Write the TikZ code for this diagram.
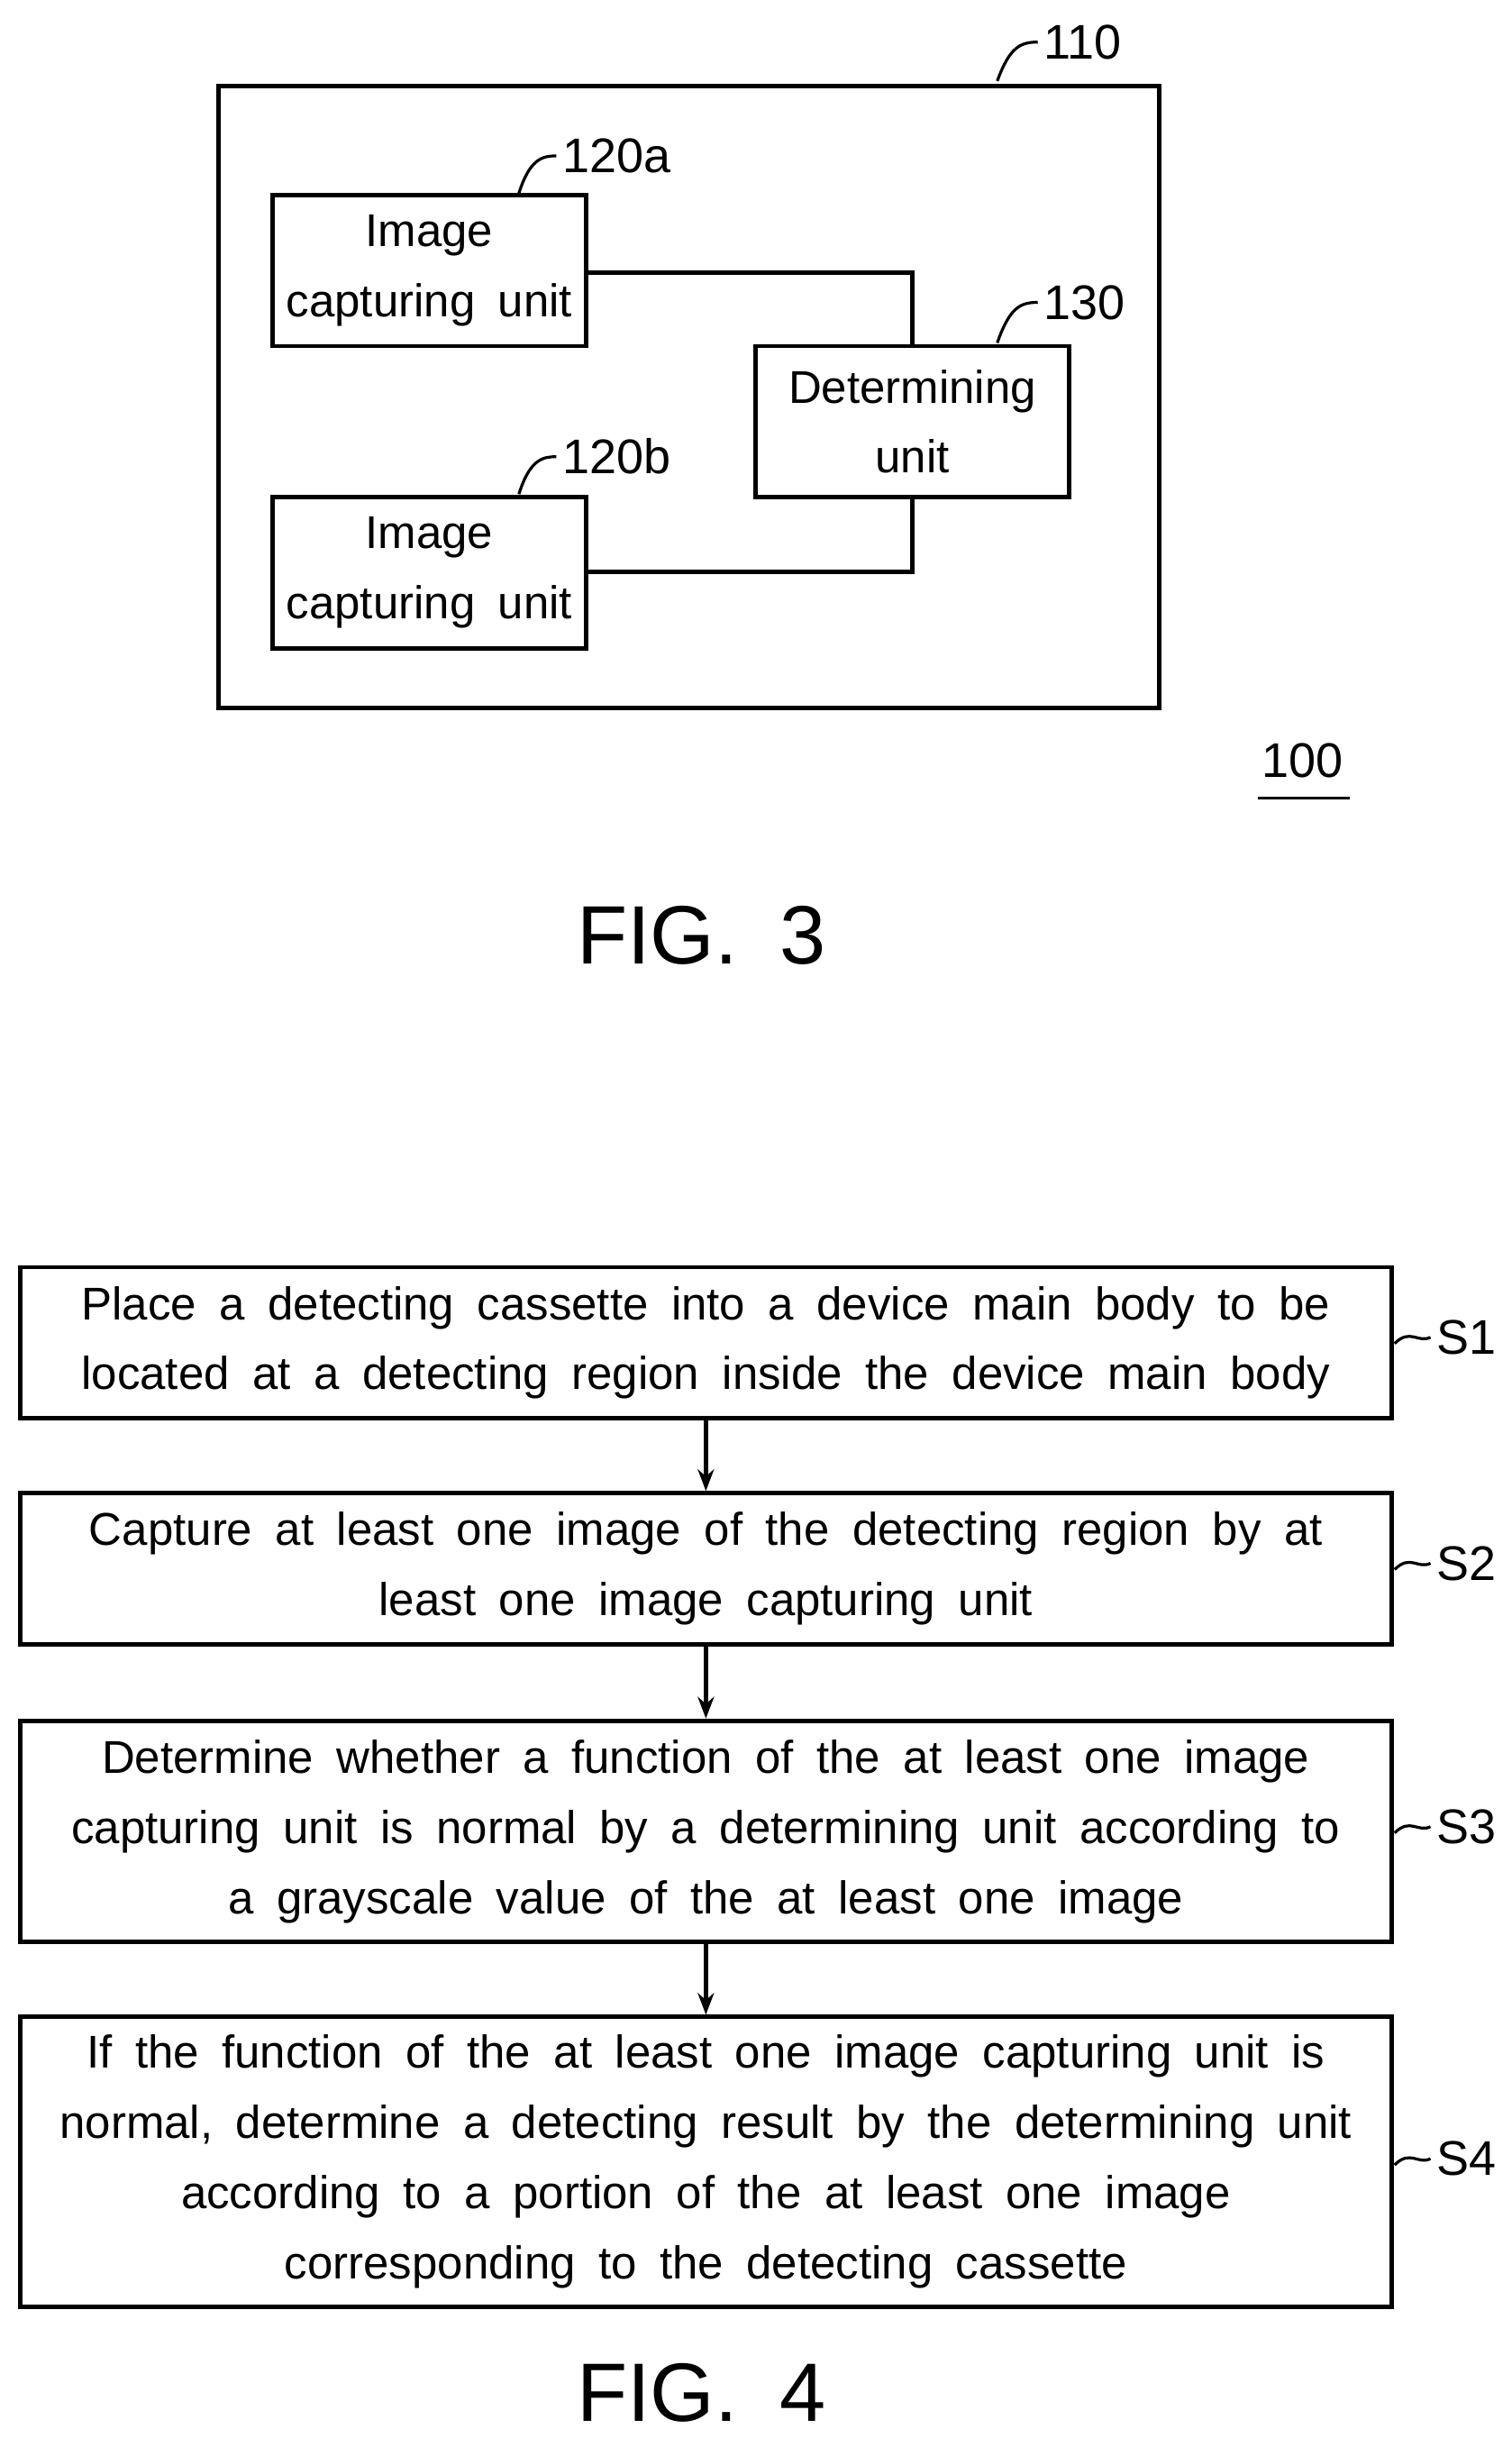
\documentclass[tikz,border=0pt]{standalone}
\usepackage{fontspec}
\setmainfont{Liberation Sans}[WordSpace=1.8]
\usetikzlibrary{arrows.meta}
\begin{document}
\begin{tikzpicture}[x=0.865pt,y=-0.865pt,
  box/.style={draw,line width=2.4pt,inner sep=0pt},
  txt/.style={font=\fontsize{25.5}{39}\selectfont,align=center},
  lbl/.style={font=\fontsize{27}{30}\selectfont,anchor=west},
  ln/.style={line width=2.4pt},
  ld/.style={line width=1.6pt},
  arr/.style={line width=2.4pt,-{Stealth[length=12pt,width=9pt]}}]
\useasboundingbox (0,0) rectangle (970,1570);
% FIG 3
\node[box,minimum width=604*0.865pt,minimum height=399*0.865pt] (b110) at (442,254.5) {};
\node[box,minimum width=201*0.865pt,minimum height=97*0.865pt,txt] (a) at (275.5,173.5) {Image\\capturing unit};
\node[box,minimum width=201*0.865pt,minimum height=97*0.865pt,txt] (b) at (275.5,367.5) {Image\\capturing unit};
\node[box,minimum width=201*0.865pt,minimum height=97*0.865pt,txt] (c) at (585.5,270.5) {Determining\\unit};
\draw[ln] (a.east |- 0,175) -| (c.north);
\draw[ln] (b.east |- 0,367) -| (c.south);
\node[lbl] (l110) at (666,27) {110};
\draw[ld] (640,52) .. controls (648,30) and (655,27) .. (l110.west);
\node[lbl] (l120a) at (357,100) {120a};
\draw[ld] (333,124) .. controls (340,102) and (348,100) .. (l120a.west);
\node[lbl] (l120b) at (357,293) {120b};
\draw[ld] (333,317) .. controls (340,295) and (348,293) .. (l120b.west);
\node[lbl] (l130) at (666,194) {130};
\draw[ld] (640,220) .. controls (648,197) and (655,194) .. (l130.west);
\node[font=\fontsize{27}{30}\selectfont] (l100) at (836,488) {100};
\draw[ld] (807,512) -- (866,512);
\node[font=\fontsize{46}{50}\selectfont] (f3) at (450,600) {FIG. 3};
% FIG 4
\node[box,minimum width=880*0.865pt,minimum height=97*0.865pt,txt] (s1) at (453,861.5) {Place a detecting cassette into a device main body to be\\located at a detecting region inside the device main body};
\node[box,minimum width=880*0.865pt,minimum height=97*0.865pt,txt] (s2) at (453,1006.5) {Capture at least one image of the detecting region by at\\least one image capturing unit};
\node[box,minimum width=880*0.865pt,minimum height=142*0.865pt,txt] (s3) at (453,1175) {Determine whether a function of the at least one image\\capturing unit is normal by a determining unit according to\\a grayscale value of the at least one image};
\node[box,minimum width=880*0.865pt,minimum height=186*0.865pt,txt] (s4) at (453,1387) {If the function of the at least one image capturing unit is\\normal, determine a detecting result by the determining unit\\according to a portion of the at least one image\\corresponding to the detecting cassette};
\draw[arr] (s1) -- (s2);
\draw[arr] (s2) -- (s3);
\draw[arr] (s3) -- (s4);
\foreach \n/\y in {1/858,2/1003,3/1172,4/1385}{
  \node[lbl] (t\n) at (918,\y) {S\n};
  \draw[ld] (895,\y+4) .. controls (905,\y-6) and (910,\y+4) .. (t\n.west);
}
\node[font=\fontsize{46}{50}\selectfont] (f4) at (450,1535) {FIG. 4};
\end{tikzpicture}
\end{document}
